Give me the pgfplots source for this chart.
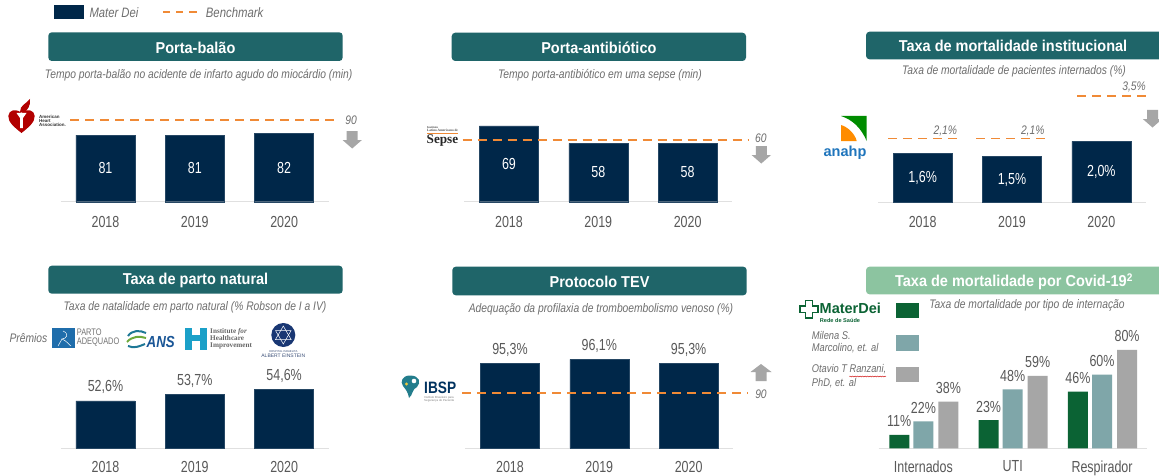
\documentclass[border=0pt]{standalone}
\usepackage{pgfplots}
\pgfplotsset{compat=1.18}
\usepackage{fontspec}
\usetikzlibrary{decorations.pathmorphing}
\setmainfont{Liberation Sans}
\newfontfamily\cond[FakeStretch=0.83]{Liberation Sans}
\newfontfamily\condn[FakeStretch=0.78]{Liberation Sans}
\newfontfamily\condh[FakeStretch=0.92]{Liberation Sans}
\newfontfamily\serifl{Liberation Serif}
\definecolor{navy}{HTML}{002749}
\definecolor{hdr}{HTML}{1F6569}
\definecolor{hdrl}{HTML}{8CC4A0}
\definecolor{orng}{HTML}{F08A36}
\definecolor{txt}{HTML}{595959}
\definecolor{sub}{HTML}{6E6E6E}
\definecolor{arrowg}{HTML}{A6A6A6}
\definecolor{mdgreen}{HTML}{0B6334}
\definecolor{mdteal}{HTML}{7FA6A9}
\definecolor{mdgray}{HTML}{A6A6A6}
\definecolor{anablue}{RGB}{31,117,188}
\definecolor{partoblue}{RGB}{31,109,171}
\definecolor{anst}{RGB}{30,120,150}
\definecolor{ansg}{RGB}{110,170,60}
\definecolor{ansb}{RGB}{25,85,150}
\definecolor{ihi}{RGB}{27,160,200}
\definecolor{ein}{RGB}{25,55,115}
\definecolor{eint}{RGB}{60,80,120}
\definecolor{ibt}{RGB}{35,125,140}
\definecolor{iby}{RGB}{240,200,60}
\definecolor{ibn}{RGB}{0,50,95}
\newcommand{\fs}[1]{\fontsize{#1}{#1}\selectfont}
\newcommand{\header}[6]{% x1 y1 x2 y2 color text
  \fill[#5,rounded corners=3.5] (#1,475-#2) rectangle (#3,475-#4);
  \node[text=white,font=\condh\fs{15.75}\bfseries] at ({(#1+#3)/2},{475-(#2+#4)/2-0.8}) {#6};}
\newcommand{\subt}[3]{\node[text=sub,font=\cond\fs{12.4}\itshape] at (#1,475-#2) {#3};}
\newcommand{\arrowdown}[2]{% x centre, y top
  \fill[arrowg] (#1-5.5,475-#2) -- (#1+5.5,475-#2) -- (#1+5.5,475-#2-9) -- (#1+9.7,475-#2-9) -- (#1,475-#2-17.5) -- (#1-9.7,475-#2-9) -- (#1-5.5,475-#2-9) -- cycle;}
\newcommand{\arrowup}[2]{% x centre, y bottom
  \fill[arrowg] (#1-5.5,475-#2) -- (#1+5.5,475-#2) -- (#1+5.5,475-#2+9) -- (#1+10.5,475-#2+9) -- (#1,475-#2+17) -- (#1-10.5,475-#2+9) -- (#1-5.5,475-#2+9) -- cycle;}
\pgfplotsset{panel/.style={
  scale only axis, clip=false, width=268pt, height=150pt,
  anchor=south west, xmin=-0.5, xmax=2.5,
  axis y line=none, axis x line*=bottom,
  x axis line style={-,draw=black!12,line width=0.9pt},
  major tick length=0pt, xtick={0,1,2},
  xticklabel style={font=\condn\fs{16},text=txt,yshift=-14pt,inner sep=0pt,anchor=north},
 },
 navybar/.style={ybar,bar width=59pt,bar shift=0pt,fill=navy,draw=navy!85!white,line width=0.4pt,
   point meta=explicit symbolic},
 above lab/.style={nodes near coords,nodes near coords style={font=\condn\fs{16},text=txt,anchor=center,yshift=13.5pt,inner sep=0pt}},
}
\tikzset{vlab/.style={text=white,font=\condn\fs{16},inner sep=0pt},
  blab/.style={text=sub,font=\cond\fs{12.4}\itshape,inner sep=0pt},
  bench/.style={draw=orng,line width=1.8pt,dash pattern=on 9pt off 6pt}}
\begin{document}
\begin{tikzpicture}[x=1pt,y=1pt]
\clip (0,0) rectangle (1159,475);
\fill[white] (0,0) rectangle (1159,475);
% legend
\fill[navy] (54.3,475-5) rectangle (84,475-19.3);
\node[anchor=west,text=sub,font=\cond\fs{13.6}\itshape,inner sep=0pt] at (89.3,475-13) {Mater Dei};
\fill[orng] (162.7,475-10.8) rectangle (170,475-12.6);
\fill[orng] (175.7,475-10.8) rectangle (183.3,475-12.6);
\fill[orng] (189.3,475-10.8) rectangle (197.3,475-12.6);
\node[anchor=west,text=sub,font=\cond\fs{13.7}\itshape,inner sep=0pt] at (205.7,475-12.3) {Benchmark};
% headers
\header{48.3}{32.3}{342.7}{61}{hdr}{Porta-balão}
\header{451.7}{32.7}{746}{61}{hdr}{Porta-antibiótico}
\header{866}{31.7}{1175}{59.3}{hdr}{}
\node[text=white,font=\condh\fs{15.75}\bfseries] at (1013,475-46.3) {Taxa de mortalidade institucional};
\header{48.3}{265.7}{342.7}{293.7}{hdr}{Taxa de parto natural}
\header{452.3}{266.7}{746.7}{295.3}{hdr}{Protocolo TEV}
\header{866}{266.7}{1175}{294.3}{hdrl}{}
\node[text=white,font=\condh\fs{15.75}\bfseries] at (1014,475-281.8) {Taxa de mortalidade por Covid-19\textsuperscript{2}};
% subtitles
\subt{198.7}{75}{Tempo porta-balão no acidente de infarto agudo do miocárdio (min)}
\subt{600}{75}{Tempo porta-antibiótico em uma sepse (min)}
\subt{1014}{71}{Taxa de mortalidade de pacientes internados (\%)}
\subt{195}{307.3}{Taxa de natalidade em parto natural (\% Robson de I a IV)}
\subt{601}{309}{Adequação da profilaxia de tromboembolismo venoso (\%)}
\subt{1027}{305.7}{Taxa de mortalidade por tipo de internação}
% arrows
\arrowdown{352.2}{131}
\arrowdown{761.3}{146}
\arrowdown{1152.5}{110}
\arrowup{761}{381}
% P1
\begin{axis}[panel,at={(60.8pt,273.3pt)},ymin=41.2,ymax=131,xticklabels={2018,2019,2020}]
\addplot[navybar] coordinates {(0,81)(1,81)(2,82)};
\addplot[bench] coordinates {(-0.397,90)(2.603,90)};
\node[vlab] at (axis cs:0,61.1) {81};
\node[vlab] at (axis cs:1,61.1) {81};
\node[vlab] at (axis cs:2,61.6) {82};
\node[blab] at (axis cs:2.749,90) {90};
\end{axis}
% P2
\begin{axis}[panel,at={(464.3pt,273.3pt)},ymin=20.8,ymax=116.3,xticklabels={2018,2019,2020}]
\addplot[navybar] coordinates {(0,69)(1,58)(2,58)};
\addplot[bench] coordinates {(-0.52,60)(2.68,60)};
\node[vlab] at (axis cs:0,44.9) {69};
\node[vlab] at (axis cs:1,39.4) {58};
\node[vlab] at (axis cs:2,39.4) {58};
\node[blab] at (axis cs:2.82,61.5) {60};
\end{axis}
% P3
\begin{axis}[panel,at={(878pt,272.7pt)},ymin=0,ymax=4.93,xticklabels={2018,2019,2020}]
\addplot[navybar] coordinates {(0,1.6)(1,1.5)(2,2.0)};
\addplot[bench] coordinates {(-0.385,2.1)(0.392,2.1)};
\addplot[bench] coordinates {(0.597,2.1)(1.369,2.1)};
\addplot[bench] coordinates {(1.731,3.5)(2.5,3.5)};
\node[vlab] at (axis cs:0,0.8) {1,6\%};
\node[vlab] at (axis cs:1,0.75) {1,5\%};
\node[vlab] at (axis cs:2,1.0) {2,0\%};
\node[blab] at (axis cs:0.253,2.33) {2,1\%};
\node[blab] at (axis cs:1.232,2.33) {2,1\%};
\node[blab] at (axis cs:2.366,3.78) {3,5\%};
\end{axis}
% P4
\begin{axis}[panel,at={(60.8pt,26.7pt)},ymin=44.5,ymax=70.1,xticklabels={2018,2019,2020},xticklabel style={yshift=1pt}]
\addplot[navybar,above lab] coordinates {(0,52.6)[52,6\%] (1,53.7)[53,7\%] (2,54.6)[54,6\%]};
\end{axis}
% P5
\begin{axis}[panel,at={(465.3pt,26.7pt)},ymin=79.9,ymax=107.2,xticklabels={2018,2019,2020},xticklabel style={yshift=1pt}]
\addplot[navybar,above lab] coordinates {(0,95.3)[95,3\%] (1,96.1)[96,1\%] (2,95.3)[95,3\%]};
\addplot[bench] coordinates {(-0.533,90)(2.668,90)};
\node[blab] at (axis cs:2.81,89.8) {90};
\end{axis}
% P6
\begin{axis}[panel,at={(878.7pt,26.7pt)},ymin=0,ymax=122,xticklabels={Internados,UTI,Respirador},xticklabel style={yshift=2pt},
  every axis plot/.append style={ybar,bar width=20pt,bar shift=0pt,draw=none,point meta=explicit symbolic,
    nodes near coords,nodes near coords style={font=\condn\fs{16},text=txt,anchor=center,yshift=13.5pt,inner sep=0pt}}]
\addplot[fill=mdgreen] coordinates {(-0.27,11)[11\%] (0.73,23)[23\%] (1.73,46)[46\%]};
\addplot[fill=mdteal] coordinates {(0,22)[22\%] (1,48)[48\%] (2,60)[60\%]};
\addplot[fill=mdgray] coordinates {(0.28,38)[38\%] (1.28,59)[59\%] (2.28,80)[80\%]};
\end{axis}
% P6 legend
\fill[mdgreen] (896,475-302.7) rectangle (919,475-318.3);
\fill[mdteal] (896,475-335) rectangle (919,475-351);
\fill[mdgray] (896,475-366.7) rectangle (919,475-381.7);
\begin{scope}[every node/.style={anchor=west,text=sub,font=\cond\fs{11.2}\itshape,inner sep=0pt}]
\node at (811.7,475-335) {Milena S.};
\node at (811.7,475-348.5) {Marcolino, et. al};
\node at (811.7,475-369.5) {Otavio T Ranzani,};
\node at (811.7,475-383.5) {PhD, et. al};
\end{scope}
\draw[red!80!black,line width=0.4pt,decorate,decoration={snake,amplitude=0.5pt,segment length=2.5pt}] (849.3,475-376.5) -- (886,475-376.5);
% Mater Dei logo
\draw[mdgreen,line width=1.4pt,fill=white] (805.5,475-300.5) -- (812.5,475-300.5) -- (812.5,475-306) -- (818,475-306) -- (818,475-312.5) -- (812.5,475-312.5) -- (812.5,475-318) -- (805.5,475-318) -- (805.5,475-312.5) -- (800,475-312.5) -- (800,475-306) -- (805.5,475-306) -- cycle;
\node[anchor=west,text=mdgreen,font=\fs{14.5}\bfseries,inner sep=0pt] at (819.5,475-308.5) {MaterDei};
\node[anchor=west,text=mdgreen,font=\fs{5.6}\bfseries,inner sep=0pt] at (819.7,475-320.3) {Rede de Saúde};
% AHA logo
\fill[red!70!black] (21.5,475-133) .. controls (14,475-127) and (8,475-122) .. (8.3,475-116) .. controls (8.6,475-110) and (16,475-108) .. (21.5,475-113) .. controls (27,475-108) and (34.5,475-110) .. (34.7,475-116) .. controls (35,475-122) and (29,475-127) .. (21.5,475-133) -- cycle;
\fill[red!70!black] (20,475-112) .. controls (20,475-105) and (26,475-104) .. (30,475-99) .. controls (31,475-106) and (27,475-110) .. (24,475-113) -- cycle;
\fill[white] (16.5,475-113) -- (26.5,475-113) -- (23,475-118) -- (22.8,475-128) -- (20.2,475-128) -- (20,475-118) -- cycle;
\node[anchor=west,align=left,text=black!80,font=\fs{4.5}\bfseries,inner sep=0pt] at (39,475-121) {American\\[-0.2pt]Heart\\[-0.2pt]Association.};
% Sepse logo
\node[anchor=west,text=black!70,font=\serifl\fs{3}\bfseries,inner sep=0pt] at (427,475-127) {Instituto};
\node[anchor=west,text=black!70,font=\serifl\fs{3.4}\bfseries,inner sep=0pt] at (427,475-130.5) {Latino Americano de};
\fill[orng] (427,475-133) rectangle (458,475-134);
\node[anchor=west,text=black!85,font=\serifl\fs{13.2}\bfseries,inner sep=0pt] at (426.5,475-141) {Sepse};
% anahp logo
\fill[green!55!black] (841,475-116) -- (866.7,475-116) -- (866.7,475-141) .. controls (861,475-128) and (853,475-120) .. (841,475-116) -- cycle;
\fill[orange!90!yellow] (841,475-125) .. controls (848,475-127) and (855,475-134) .. (856.7,475-141) -- (841,475-141) -- cycle;
\node[text=anablue,font=\fs{14.5}\bfseries,inner sep=0pt] at (845,475-152.7) {anahp};
% Premios
\node[text=sub,font=\cond\fs{12.4}\itshape,inner sep=0pt] at (28.5,475-338.5) {Prêmios};
\fill[partoblue] (51.7,475-328.3) rectangle (75,475-348.3);
\draw[white,line width=0.5pt] (63,475-331) .. controls (70,475-334) and (66,475-339) .. (62,475-339) .. controls (67,475-341) and (69,475-345) .. (71,475-346);
\draw[white,line width=0.5pt] (62,475-339) -- (58,475-346);
\node[anchor=west,align=left,text=black!55,font=\condn\fs{9.5},inner sep=0pt] at (76.7,475-338) {PARTO\\[-0.5pt]ADEQUADO};
\draw[anst,line width=2pt] (128,475-336) .. controls (132,475-330) and (140,475-330) .. (146,475-333);
\draw[ansg,line width=2pt] (127,475-342) .. controls (132,475-336) and (140,475-336) .. (146,475-338);
\draw[anst,line width=2pt] (128,475-346) .. controls (134,475-349) and (140,475-346) .. (145,475-344);
\node[anchor=west,text=ansb,font=\cond\fs{16}\bfseries\itshape,inner sep=0pt] at (146.5,475-341.5) {ANS};
\fill[ihi] (185.3,475-327.7) rectangle (206.7,475-350);
\fill[white] (192,475-327.7) rectangle (200,475-334.5);
\fill[white] (192,475-341) rectangle (200,475-350);
\node[anchor=west,align=left,text=black!60,font=\serifl\fs{7.2}\bfseries,inner sep=0pt] at (210,475-338.5) {Institute \emph{for}\\[-0.4pt]Healthcare\\[-0.4pt]Improvement};
\fill[ein] (283.3,475-335) circle (12);
\draw[white,line width=0.5pt] (283.3,475-344) -- (275.5,475-330.5) -- (291.1,475-330.5) -- cycle;
\draw[white,line width=0.5pt] (283.3,475-326) -- (275.5,475-339.5) -- (291.1,475-339.5) -- cycle;
\node[text=eint,font=\fs{2.8},inner sep=0pt] at (283.3,475-351.5) {HOSPITAL ISRAELITA};
\node[text=eint,font=\fs{5},inner sep=0pt] at (283.3,475-355.5) {ALBERT EINSTEIN};
% IBSP logo
\fill[ibt] (410,475-375.5) .. controls (402,475-375.5) and (400,475-382) .. (403,475-386) .. controls (406,475-390) and (408,475-392) .. (409,475-398) .. controls (413,475-395) and (412,475-389) .. (417,475-387) .. controls (421,475-383) and (420,475-375.5) .. (410,475-375.5) -- cycle;
\fill[white] (414,475-381) circle (2.3);
\fill[iby] (406.5,475-384) circle (1.6);
\node[anchor=west,text=ibn,font=\cond\fs{16.5}\bfseries,inner sep=0pt] at (424,475-388) {IBSP};
\node[anchor=west,align=left,text=black!50,font=\fs{2.9},inner sep=0pt] at (424,475-399) {Instituto Brasileiro para\\Segurança do Paciente};
\end{tikzpicture}
\end{document}
